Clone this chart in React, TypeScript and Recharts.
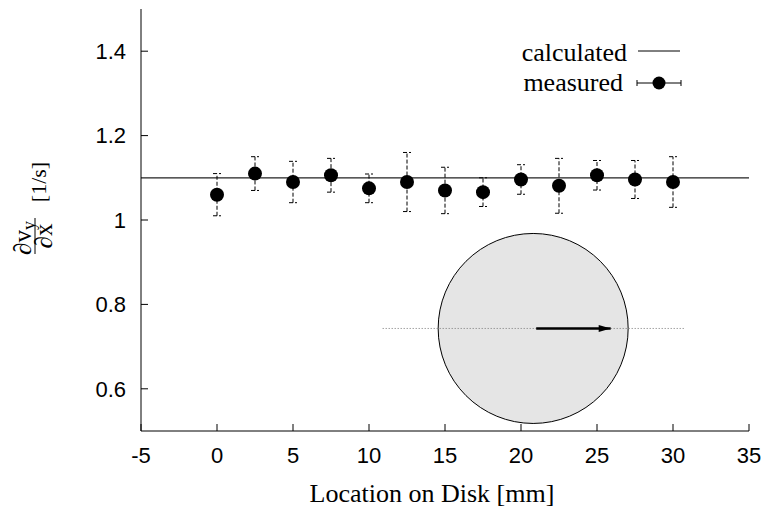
import React from "react";
import {
  ComposedChart,
  Scatter,
  Line,
  ErrorBar,
  XAxis,
  YAxis,
  Legend,
} from "recharts";

// measurement positions along the disk [mm]
const positions = [0, 2.5, 5, 7.5, 10, 12.5, 15, 17.5, 20, 22.5, 25, 27.5, 30];
// measured gradient dvy/dx [1/s]
const measured = [1.06, 1.11, 1.09, 1.106, 1.075, 1.09, 1.07, 1.066, 1.096, 1.081, 1.106, 1.096, 1.09];
const measuredErr = [0.05, 0.04, 0.049, 0.04, 0.034, 0.07, 0.055, 0.034, 0.035, 0.065, 0.035, 0.045, 0.06];

// theoretical value across the whole axis
const calculatedX = [-5, 35];
const calculatedY = [1.1, 1.1];

const xTicks = [-5, 0, 5, 10, 15, 20, 25, 30, 35];
const yTicks = [0.6, 0.8, 1, 1.2, 1.4];

// disk sketch: centre, scan line ends and velocity arrow ends
const diskX = [20.8];
const diskY = 0.743;
const scanX = [10.9, 30.8];
const arrowX = [21.0, 25.9];

const measuredData = positions.map((x, i) => ({
  x,
  y: measured[i],
  err: measuredErr[i],
}));
const calculatedData = calculatedX.map((x, i) => ({ x, y: calculatedY[i] }));
const diskData = diskX.map((x) => ({ x, y: diskY }));
const scanData = scanX.map((x) => ({ x, y: diskY }));
const arrowData = arrowX.map((x, i) => ({ x, y: diskY, tip: i === arrowX.length - 1 }));

const SANS = "'Liberation Sans', Arial, sans-serif";
const SERIF = "'Liberation Serif', 'Times New Roman', serif";

const tickStyle = { fontSize: 22, fill: "#000", fontFamily: SANS };

const Dot = (props: any) => {
  const { cx, cy } = props;
  if (cx == null || cy == null) return <g />;
  return <circle cx={cx} cy={cy} r={7} fill='#000' />;
};

const Disk = (props: any) => {
  const { cx, cy } = props;
  if (cx == null || cy == null) return <g />;
  return <circle cx={cx} cy={cy} r={95} fill='#e5e5e5' stroke='#000' strokeWidth={1} />;
};

const Nothing = () => <g />;

const ArrowHead = (props: any) => {
  const { cx, cy, payload } = props;
  if (cx == null || cy == null || !payload || !payload.tip) return <g />;
  return (
    <polygon
      points={`${cx},${cy} ${cx - 12},${cy - 3.5} ${cx - 12},${cy + 3.5}`}
      fill='#000'
    />
  );
};

const YTitle = (props: any) => {
  const vb = props.viewBox || { x: 0 };
  const cx = vb.x;
  const cy = 236;
  return (
    <g transform={`translate(${cx},${cy}) rotate(-90)`} style={{ fontFamily: SERIF }} fill='#000'>
      <text x={-2} y={31} fontSize={25} textAnchor='middle'>
        ∂v
        <tspan fontSize={18} dy={4}>
          y
        </tspan>
      </text>
      <line x1={-18} y1={35} x2={18} y2={35} stroke='#000' strokeWidth={1} />
      <text x={0} y={52} fontSize={25} textAnchor='middle'>
        ∂x
      </text>
      <text x={54} y={46} fontSize={22} textAnchor='middle'>
        [1/s]
      </text>
    </g>
  );
};

const XTitle = (props: any) => {
  const vb = props.viewBox || { x: 0, y: 0, width: 0 };
  return (
    <text
      x={vb.x + vb.width / 2 - 13}
      y={502}
      fontSize={26}
      style={{ fontFamily: SERIF }}
      textAnchor='middle'
      fill='#000'
    >
      Location on Disk [mm]
    </text>
  );
};

const LegendBox = () => (
  <svg width={220} height={90} style={{ display: "block" }}>
    <g style={{ fontFamily: SERIF }} fontSize={26} fill='#000'>
      <text x={147} y={41} textAnchor='end'>
        calculated
      </text>
      <text x={143} y={71} textAnchor='end'>
        measured
      </text>
    </g>
    <line x1={158} y1={31} x2={200} y2={31} stroke='#000' strokeWidth={1} />
    <line x1={157} y1={63} x2={201} y2={63} stroke='#000' strokeWidth={1} />
    <line x1={157} y1={60} x2={157} y2={66} stroke='#000' strokeWidth={1} />
    <line x1={201} y1={60} x2={201} y2={66} stroke='#000' strokeWidth={1} />
    <circle cx={179} cy={63} r={6.5} fill='#000' />
  </svg>
);

export default function App() {
  return (
    <div style={{ position: "absolute", left: 0, top: 0, background: "#fff" }}>
      <ComposedChart
        width={765}
        height={508}
        margin={{ top: 9, right: 16, left: 0, bottom: 0 }}
      >
        <XAxis
          dataKey='x'
          type='number'
          domain={[-5, 35]}
          ticks={xTicks}
          allowDataOverflow
          height={77}
          tickSize={-7}
          tickMargin={23}
          tick={tickStyle}
          axisLine={{ stroke: "#000" }}
          tickLine={{ stroke: "#000" }}
          label={<XTitle />}
        />
        <XAxis
          xAxisId='top'
          orientation='top'
          type='number'
          domain={[-5, 35]}
          ticks={xTicks}
          height={0}
          tickSize={-7}
          tick={false}
          axisLine={{ stroke: "#000" }}
          tickLine={{ stroke: "#000" }}
        />
        <YAxis
          type='number'
          domain={[0.5, 1.5]}
          ticks={yTicks}
          allowDataOverflow
          width={141}
          tickSize={-7}
          tickMargin={22}
          tick={tickStyle}
          axisLine={{ stroke: "#000" }}
          tickLine={{ stroke: "#000" }}
          label={<YTitle />}
        />
        <YAxis
          yAxisId='right'
          orientation='right'
          type='number'
          domain={[0.5, 1.5]}
          ticks={yTicks}
          width={0}
          tickSize={-7}
          tick={false}
          axisLine={{ stroke: "#000" }}
          tickLine={{ stroke: "#000" }}
        />

        {/* disk sketch */}
        <Scatter data={diskData} dataKey='y' shape={<Disk />} isAnimationActive={false} />
        <Scatter
          data={scanData}
          dataKey='y'
          shape={<Nothing />}
          line={{ stroke: "#777", strokeWidth: 1, strokeDasharray: "1 2" }}
          isAnimationActive={false}
        />
        <Scatter
          data={arrowData}
          dataKey='y'
          shape={<ArrowHead />}
          line={{ stroke: "#000", strokeWidth: 2.4 }}
          isAnimationActive={false}
        />

        <Line
          data={calculatedData}
          dataKey='y'
          stroke='#222'
          strokeWidth={1.2}
          dot={false}
          activeDot={false}
          isAnimationActive={false}
        />
        <Scatter
          data={measuredData}
          dataKey='y'
          shape={<Dot />}
          isAnimationActive={false}
        >
          <ErrorBar
            dataKey='err'
            direction='y'
            width={4}
            stroke='#000'
            strokeWidth={1}
            strokeDasharray='4 2'
          />
        </Scatter>

        <Legend
          layout='vertical'
          align='center'
          verticalAlign='middle'
          wrapperStyle={{ left: 480, top: 20, width: 220, height: 90 }}
          content={<LegendBox />}
        />
      </ComposedChart>
    </div>
  );
}
